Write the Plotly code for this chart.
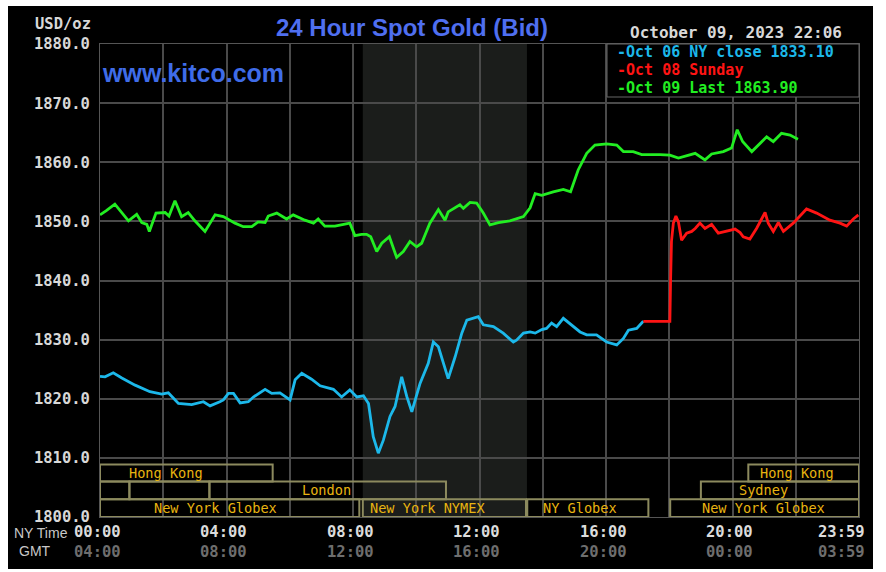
import plotly.graph_objects as go

# ---------------- data ----------------
# Oct 06 (NY close 1833.10) - hours NY time
oct06_hours = [0, 0.16, 0.42, 0.69, 1.11, 1.58, 1.95, 2.16, 2.48, 2.9, 3.27, 3.48, 3.79, 3.9, 4.06, 4.22,
               4.43, 4.69, 4.85, 5.22, 5.43, 5.69, 6.01, 6.17, 6.38, 6.69, 6.96, 7.38, 7.64, 7.9, 8.12,
               8.33, 8.49, 8.64, 8.8, 8.96, 9.17, 9.33, 9.54, 9.7, 9.86, 10.12, 10.38, 10.54, 10.7,
               11.01, 11.23, 11.44, 11.6, 11.81, 11.96, 12.12, 12.44, 12.75, 13.07, 13.17, 13.39,
               13.6, 13.76, 13.97, 14.12, 14.28, 14.44, 14.65, 14.91, 15.18, 15.39, 15.7, 16.02,
               16.34, 16.55, 16.71, 16.97, 17.18]
oct06_price = [1823.8, 1823.7, 1824.4, 1823.5, 1822.3, 1821.2, 1820.8, 1821.0, 1819.2, 1819.0, 1819.5,
               1818.8, 1819.5, 1819.8, 1820.9, 1820.9, 1819.3, 1819.5, 1820.3, 1821.6, 1820.9, 1821.0,
               1819.8, 1823.2, 1824.3, 1823.3, 1822.2, 1821.6, 1820.3, 1821.5, 1820.3, 1820.5, 1819.2,
               1813.6, 1810.8, 1813.0, 1817.0, 1818.7, 1823.7, 1820.4, 1817.8, 1822.6, 1826.0, 1829.6,
               1828.8, 1823.4, 1827.1, 1831.1, 1833.3, 1833.6, 1833.9, 1832.5, 1832.2, 1831.1, 1829.6,
               1829.9, 1831.1, 1831.3, 1831.1, 1831.7, 1831.9, 1832.8, 1832.2, 1833.6, 1832.5, 1831.3,
               1830.8, 1830.8, 1829.6, 1829.1, 1830.2, 1831.6, 1831.9, 1833.1]

# Oct 08 (Sunday)
oct08_hours = [17.18, 18.02, 18.04, 18.07, 18.13, 18.21, 18.29, 18.39, 18.55, 18.71, 18.82, 18.97, 19.13,
               19.34, 19.55, 19.87, 20.08, 20.24, 20.34, 20.55, 20.76, 21.03, 21.13, 21.29, 21.45,
               21.61, 21.92, 22.34, 22.66, 23.08, 23.4, 23.61, 23.82, 23.98]
oct08_price = [1833.1, 1833.1, 1839.5, 1846.6, 1849.7, 1850.9, 1849.9, 1846.8, 1848.0, 1848.3, 1848.8,
               1849.7, 1848.8, 1849.5, 1848.0, 1848.5, 1848.7, 1848.1, 1847.4, 1847.0, 1848.8, 1851.5,
               1849.7, 1848.3, 1849.8, 1848.3, 1849.7, 1852.1, 1851.4, 1850.2, 1849.7, 1849.2, 1850.4,
               1851.1]

# Oct 09 (Last 1863.90)
oct09_hours = [0, 0.2, 0.47, 0.9, 1.16, 1.32, 1.48, 1.56, 1.77, 2.06, 2.18, 2.37, 2.58, 2.79, 3.0, 3.32,
               3.64, 3.9, 4.27, 4.53, 4.8, 5.0, 5.22, 5.32, 5.59, 5.9, 6.11, 6.48, 6.75, 6.9, 7.11, 7.43,
               7.9, 8.06, 8.27, 8.43, 8.56, 8.75, 8.91, 9.15, 9.38, 9.59, 9.8, 10.01, 10.17, 10.43, 10.7,
               10.91, 11.01, 11.38, 11.49, 11.7, 11.91, 12.12, 12.33, 12.6, 12.96, 13.39, 13.6, 13.76,
               13.97, 14.33, 14.65, 14.88, 15.12, 15.39, 15.65, 16.02, 16.34, 16.55, 16.86, 17.13, 17.71,
               18.02, 18.29, 18.55, 18.82, 19.13, 19.34, 19.71, 19.97, 20.15, 20.32, 20.61, 20.87, 21.08,
               21.29, 21.55, 21.82, 22.07]
oct09_price = [1851.1, 1851.8, 1852.9, 1850.1, 1851.2, 1849.8, 1849.5, 1848.3, 1851.4, 1851.5, 1850.9,
               1853.5, 1850.8, 1851.5, 1850.1, 1848.3, 1851.1, 1850.8, 1849.7, 1849.1, 1849.1, 1849.9,
               1849.8, 1850.9, 1851.4, 1850.4, 1851.1, 1850.2, 1849.7, 1850.4, 1849.2, 1849.2, 1849.7,
               1847.6, 1847.8, 1847.8, 1847.4, 1844.9, 1846.3, 1847.4, 1843.9, 1844.9, 1846.6, 1845.7,
               1846.3, 1849.7, 1852.0, 1850.2, 1851.6, 1852.8, 1852.2, 1853.2, 1853.1, 1851.4, 1849.4,
               1849.8, 1850.1, 1850.8, 1852.3, 1854.7, 1854.4, 1855.0, 1855.4, 1855.0, 1858.7, 1861.5,
               1862.9, 1863.1, 1862.9, 1861.8, 1861.8, 1861.3, 1861.3, 1861.2, 1860.7, 1861.1, 1861.5,
               1860.4, 1861.4, 1861.8, 1862.4, 1865.5, 1863.5, 1861.8, 1863.2, 1864.3, 1863.5, 1864.9,
               1864.6, 1863.9]

legend_texts = ["-Oct 06 NY close 1833.10", "-Oct 08 Sunday", "-Oct 09 Last 1863.90"]

# trading sessions: name, start hour, end hour, row (0 = bottom), label hour
session_names = ["New York Globex", "New York NYMEX", "NY Globex", "New York Globex",
                 "", "", "London", "Sydney", "Hong Kong", "Hong Kong"]
session_start = [0, 8.31, 13.51, 18.03, 0, 0.93, 3.46, 19.0, 0, 20.5]
session_end = [8.2, 13.47, 17.34, 24, 0.93, 3.46, 10.94, 24, 5.46, 24]
session_row = [0, 0, 0, 0, 1, 1, 1, 1, 2, 2]
session_label_at = [3.64, 10.37, 15.18, 20.97, 0, 0, 7.15, 20.97, 2.09, 22.04]

nymex_start, nymex_end = 8.31, 13.5

ny_ticks = [0, 4, 8, 12, 16, 20, 24]
ny_labels = ["00:00", "04:00", "08:00", "12:00", "16:00", "20:00", "23:59"]
gmt_labels = ["04:00", "08:00", "12:00", "16:00", "20:00", "00:00", "03:59"]

# ---------------- layout helpers ----------------
W, H = 886, 572
L, R, T, B = 100, 859, 44, 517


def px(x):
    return (x - L) / (R - L)


def py(y):
    return (B - y) / (B - T)


MONO = "DejaVu Sans Mono"
SANS = "Liberation Sans, Arial"

fig = go.Figure()

fig.add_trace(go.Scatter(x=oct06_hours, y=oct06_price, mode="lines",
                         line=dict(color="#1cb8ea", width=2.8), hoverinfo="skip"))
fig.add_trace(go.Scatter(x=oct08_hours, y=oct08_price, mode="lines",
                         line=dict(color="#ff1414", width=2.8), hoverinfo="skip"))
fig.add_trace(go.Scatter(x=oct09_hours, y=oct09_price, mode="lines",
                         line=dict(color="#22ee22", width=2.8), hoverinfo="skip"))

shapes = []
# white page borders around the black chart
for (x0, y0, x1, y1) in [(0, 0, 8, H), (873, 0, W, H), (0, 0, W, 6), (0, 569, W, H)]:
    shapes.append(dict(type="rect", xref="paper", yref="paper", x0=px(x0), x1=px(x1),
                       y0=py(y1), y1=py(y0), fillcolor="white", line=dict(width=0), layer="below"))
# NYMEX shading
shapes.append(dict(type="rect", xref="x", yref="y", x0=nymex_start, x1=nymex_end, y0=1800, y1=1880,
                   fillcolor="#1b1d1b", line=dict(width=0), layer="below"))
# session boxes
row_bounds = [(1800, 1803), (1803, 1806), (1806, 1808.9)]
for s, e, r in zip(session_start, session_end, session_row):
    y0, y1 = row_bounds[r]
    shapes.append(dict(type="rect", xref="x", yref="y", x0=s, x1=e, y0=y0, y1=y1,
                       fillcolor="rgba(0,0,0,0)", line=dict(color="#8c8a5e", width=2), layer="above"))
# legend box
shapes.append(dict(type="rect", xref="paper", yref="paper", x0=px(607), x1=px(859), y0=py(97), y1=py(44),
                   fillcolor="black", line=dict(color="#666666", width=1), layer="above"))

ann = []
for name, lab, r in zip(session_names, session_label_at, session_row):
    if name:
        y0, y1 = row_bounds[r]
        ann.append(dict(x=lab, y=(y0 + y1) / 2, xref="x", yref="y", text=name, showarrow=False,
                        font=dict(family=MONO, size=13.6, color="#e8b410"), xanchor="center", yanchor="middle"))

for t, a, g in zip(ny_ticks, ny_labels, gmt_labels):
    xa = "center"
    xs = -3
    if t == 24:
        xa = "right"
        xs = 8
    ann.append(dict(x=t, y=py(532), xref="x", yref="paper", text=a, showarrow=False, xanchor=xa, xshift=xs,
                    yanchor="middle", font=dict(family=MONO, size=15.5, color="#dcdcdc", weight="bold")))
    ann.append(dict(x=t, y=py(552), xref="x", yref="paper", text=g, showarrow=False, xanchor=xa, xshift=xs,
                    yanchor="middle", font=dict(family=MONO, size=15.5, color="#6e6e6e", weight="bold")))

ann.append(dict(x=px(70), y=py(533), xref="paper", yref="paper", text="NY Time", showarrow=False,
                xanchor="right", yanchor="middle", font=dict(family=SANS, size=14, color="#c8c8c8")))
ann.append(dict(x=px(35), y=py(551), xref="paper", yref="paper", text="GMT", showarrow=False,
                xanchor="center", yanchor="middle", font=dict(family=SANS, size=14, color="#c8c8c8")))
ann.append(dict(x=px(93), y=py(24), xref="paper", yref="paper", text="USD/oz", showarrow=False,
                xanchor="right", yanchor="middle", font=dict(family=MONO, size=15.5, color="#d8d8d8", weight="bold")))
ann.append(dict(x=px(412), y=py(27), xref="paper", yref="paper", text="24 Hour Spot Gold (Bid)",
                showarrow=False, xanchor="center", yanchor="middle",
                font=dict(family=SANS, size=24, color="#4f6ff0", weight="bold")))
ann.append(dict(x=px(100), y=py(73), xref="paper", yref="paper", text="www.kitco.com",
                showarrow=False, xanchor="left", yanchor="middle",
                font=dict(family=SANS, size=25, color="#3f6ce8", weight="bold")))
ann.append(dict(x=px(844), y=py(33), xref="paper", yref="paper", text="October 09, 2023 22:06",
                showarrow=False, xanchor="right", yanchor="middle",
                font=dict(family=MONO, size=16, color="#d8d8d8", weight="bold")))
leg_colors = ["#1cb8ea", "#ff1414", "#22ee22"]
leg_y = [52, 70, 88]
for txt, c, yy in zip(legend_texts, leg_colors, leg_y):
    ann.append(dict(x=px(615), y=py(yy), xref="paper", yref="paper", text=txt, showarrow=False,
                    xanchor="left", yanchor="middle", font=dict(family=MONO, size=15, color=c, weight="bold")))

fig.update_layout(
    width=W, height=H, margin=dict(l=L, r=W - R, t=T, b=H - B, pad=0),
    paper_bgcolor="black", plot_bgcolor="black", showlegend=False,
    shapes=shapes, annotations=ann,
    xaxis=dict(range=[0, 24], tick0=0, dtick=2, showgrid=True, gridcolor="#4a4a4a", gridwidth=1.5,
               showline=True, linecolor="#555555", mirror=True, showticklabels=False, zeroline=False,
               fixedrange=True),
    yaxis=dict(range=[1800, 1880], tick0=1800, dtick=10, tickformat=".1f", showgrid=True,
               gridcolor="#4a4a4a", gridwidth=1.5, showline=True, linecolor="#555555", mirror=True,
               zeroline=False, ticks="", ticklabelstandoff=6,
               tickfont=dict(family=MONO, size=15.5, color="#d8d8d8", weight="bold"), fixedrange=True),
)

fig.write_html("out.html")
